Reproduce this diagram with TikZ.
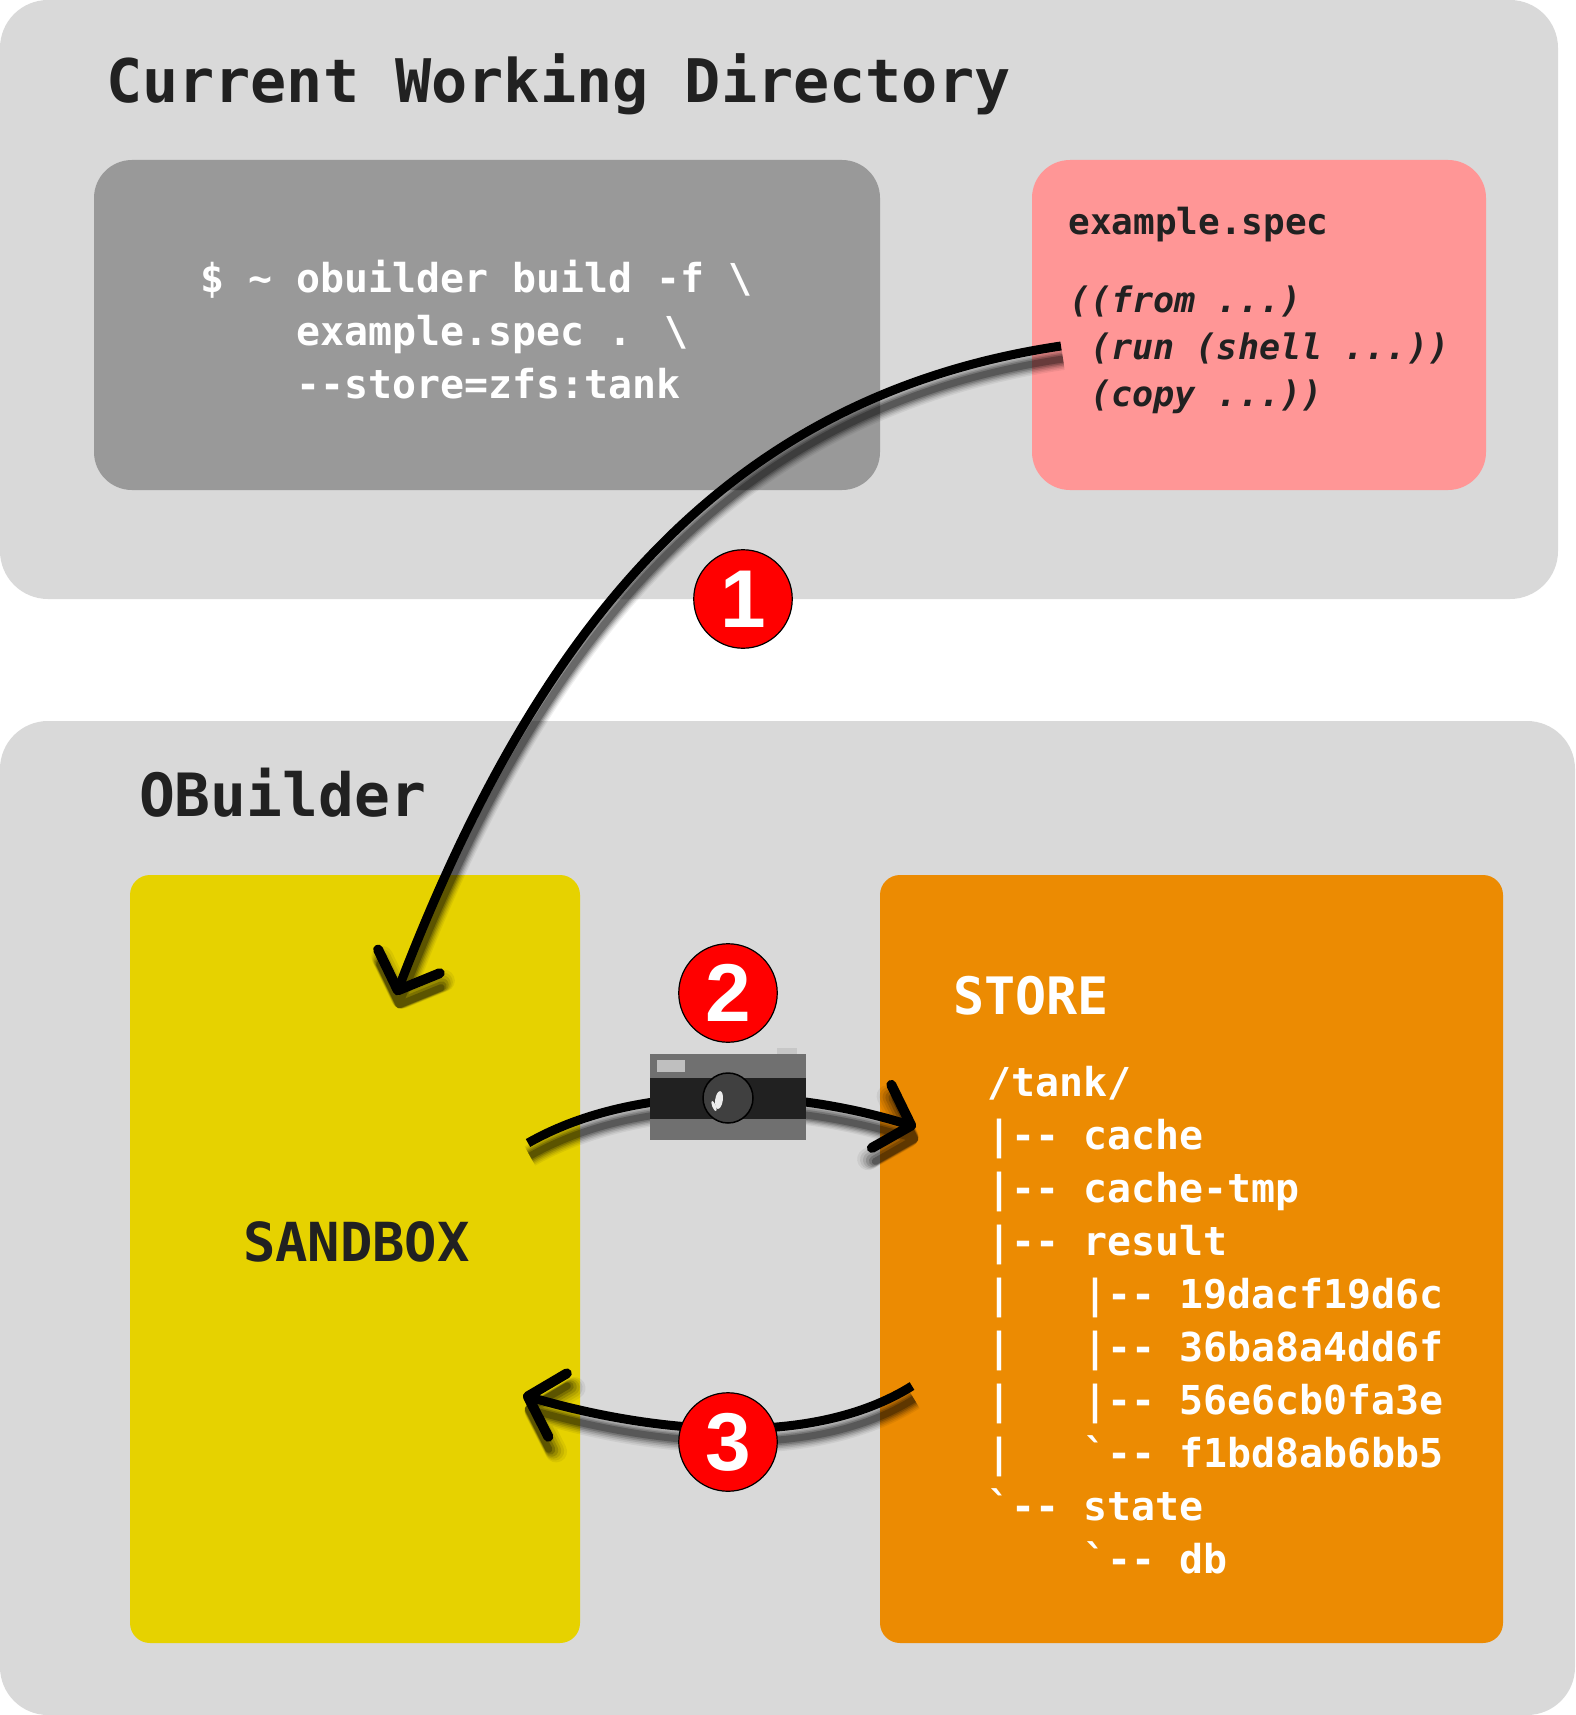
\documentclass[tikz,border=0pt]{standalone}
\usepackage{fontspec}
\usetikzlibrary{arrows.meta}
\newfontfamily\monob{DejaVu Sans Mono}[BoldFont={DejaVu Sans Mono Bold},BoldItalicFont={DejaVu Sans Mono Bold Oblique},ItalicFont={DejaVu Sans Mono Oblique}]
\newfontfamily\digitf{Liberation Sans}
\definecolor{panelc}{HTML}{D9D9D9}
\definecolor{termc}{HTML}{999999}
\definecolor{specc}{HTML}{FF9696}
\definecolor{sandc}{HTML}{E6D200}
\definecolor{storec}{HTML}{EC8B02}
\definecolor{inkc}{HTML}{212121}
\tikzset{
  x=1pt,y=-1pt,
  box/.style={inner sep=0pt,outer sep=0pt,draw=none},
  mono/.style={inner sep=0pt,outer sep=0pt,text=inkc,align=left},
  badge/.style={circle,fill=red,draw=black,line width=1.2pt,minimum size=98.5pt,inner sep=0pt,text=white,font=\digitf\bfseries\fontsize{82}{82}\selectfont},
  conn/.style={line width=9pt,black,-{Straight Barb[length=31pt,width=66pt,line width=10pt,round]}},
}
\newcommand\softcurve[4]{%
  \foreach \shw/\sho in {22/0.06,19/0.08,16/0.10,13/0.14,10/0.18,7/0.25}{%
    \begin{scope}[transparency group,opacity=\sho]
      \draw[black,line width=\shw pt,-{Straight Barb[length=31pt,width=66pt,line width=\shw pt,round]}]
        ([shift={(2,13)}]#1) .. controls ([shift={(2,13)}]#2) and ([shift={(2,13)}]#3) .. ([shift={(2,13)}]#4);
    \end{scope}}%
  \draw[conn] (#1) .. controls (#2) and (#3) .. (#4);%
}
\begin{document}
\begin{tikzpicture}
\useasboundingbox (0,0) rectangle (1575,1715);
% panels
\node[box,fill=panelc,rounded corners=48pt,minimum width=1558pt,minimum height=599pt,anchor=north west] (cwd) at (0,0) {};
\node[box,fill=panelc,rounded corners=48pt,minimum width=1575pt,minimum height=994pt,anchor=north west] (ob) at (0,721) {};
\node[box,fill=termc,rounded corners=38pt,minimum width=786pt,minimum height=330pt,anchor=north west] (term) at (94,160) {};
\node[box,fill=specc,rounded corners=38pt,minimum width=454pt,minimum height=330pt,anchor=north west] (spec) at (1032,160) {};
\node[box,fill=sandc,rounded corners=20pt,minimum width=450pt,minimum height=768pt,anchor=north west] (sand) at (130,875) {};
\node[box,fill=storec,rounded corners=20pt,minimum width=623pt,minimum height=768pt,anchor=north west] (store) at (880,875) {};
% texts
\node[mono,anchor=base west,font=\monob\bfseries\fontsize{60.1}{60}\selectfont] (t1) at (106,103) {Current Working Directory};
\node[mono,anchor=base west,font=\monob\bfseries\fontsize{59.6}{59}\selectfont] (t2) at (139,816) {OBuilder};
\node[mono,anchor=north west,text=white,font=\monob\bfseries\fontsize{39.85}{53}\selectfont] (t3) at (200.5,260)
  {\$ \textasciitilde{} obuilder build -f \textbackslash\\
   ~~~~example.spec . \textbackslash\\
   ~~~~--store=zfs:tank};
\node[mono,anchor=base west,font=\monob\bfseries\fontsize{36}{36}\selectfont] (t4) at (1068.5,234.5) {example.spec};
\node[mono,anchor=north west,font=\monob\bfseries\itshape\fontsize{35.1}{46.8}\selectfont] (t5) at (1069,286)
  {((from ...)\\
   ~(run (shell ...))\\
   ~(copy ...))};
\node[mono,anchor=base west,font=\monob\bfseries\fontsize{53.8}{54}\selectfont] (t6) at (243,1261.5) {SANDBOX};
\node[mono,anchor=base west,text=white,font=\monob\bfseries\fontsize{51.6}{51}\selectfont] (t7) at (953.5,1014) {STORE};
\node[mono,anchor=north west,text=white,font=\monob\bfseries\fontsize{39.85}{53}\selectfont] (t8) at (987.5,1066)
  {/tank/\\
   |-- cache\\
   |-- cache-tmp\\
   |-- result\\
   |~~~|-- 19dacf19d6c\\
   |~~~|-- 36ba8a4dd6f\\
   |~~~|-- 56e6cb0fa3e\\
   |~~~`-- f1bd8ab6bb5\\
   `-- state\\
   ~~~~`-- db};
% connectors
\coordinate (a1s) at (1061,346);
\coordinate (a1e) at (396,995);
\coordinate (a2s) at (528,1143);
\coordinate (a2e) at (916,1127);
\coordinate (a3s) at (912,1386);
\coordinate (a3e) at (523,1395);
\softcurve{a1s}{730,395}{540,620}{a1e}
\softcurve{a2s}{630,1085}{780,1085}{a2e}
\softcurve{a3s}{810,1450}{650,1432}{a3e}
% camera
\node[box,fill=black!22,minimum width=20pt,minimum height=6pt,anchor=north west] (cbump) at (777,1048) {};
\node[box,fill=black!56,minimum width=156pt,minimum height=86pt,anchor=north west] (cam) at (650,1054) {};
\node[box,fill=inkc,minimum width=156pt,minimum height=41pt,anchor=north west] (cband) at (650,1078) {};
\node[box,fill=black!25,minimum width=28pt,minimum height=12pt,anchor=north west] (cwin) at (657,1060) {};
\node[circle,fill=black!75,draw=black,line width=1.5pt,minimum size=50pt,inner sep=0pt] (clens) at (728,1098) {};
\fill[black!7,rotate around={-8:(719,1100)}] (719,1100) ellipse [x radius=3.8,y radius=9];
\fill[black!7,rotate around={22:(714,1106)}] (714,1106) ellipse [x radius=1.8,y radius=5.5];
% badges
\node[badge] (b1) at (743,599) {\raisebox{-2pt}{1}};
\node[badge] (b2) at (728,993) {\raisebox{-1pt}{2}};
\node[badge] (b3) at (728,1442) {\raisebox{-2pt}{3}};
\end{tikzpicture}
\end{document}
